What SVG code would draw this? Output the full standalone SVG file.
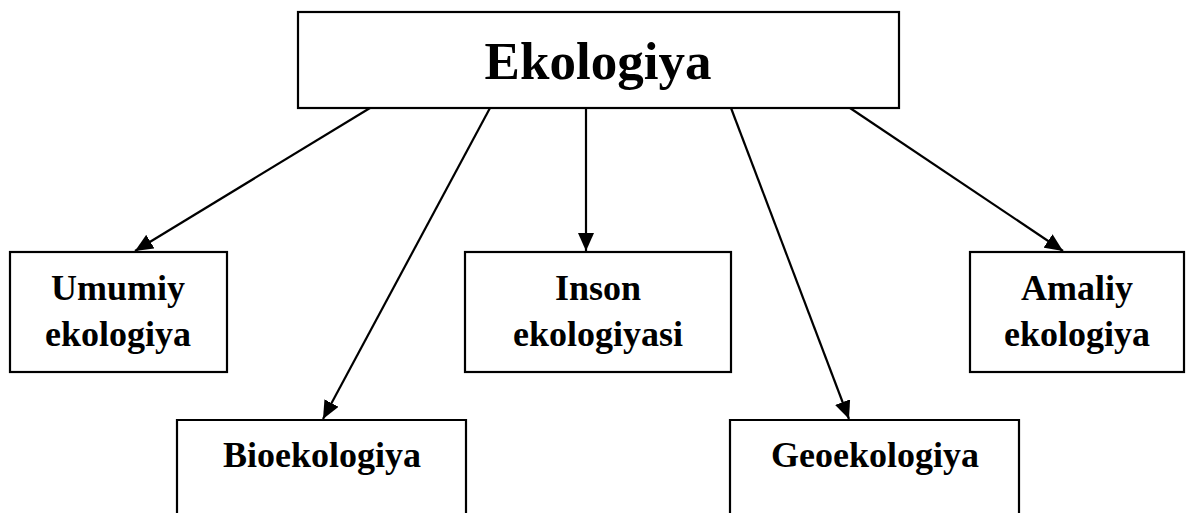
<svg xmlns="http://www.w3.org/2000/svg" width="1186" height="513" viewBox="0 0 1186 513">
<style>
.box{fill:#fff;stroke:#000;stroke-width:2.2}
.t{font-family:"Liberation Serif","Times New Roman",serif;font-weight:bold;fill:#000;text-anchor:middle}
.s{font-size:36px}
.e{stroke:#000;stroke-width:2.2;fill:none;marker-end:url(#ah)}
</style>
<defs>
<marker id="ah" markerUnits="userSpaceOnUse" markerWidth="20" markerHeight="16" refX="18" refY="8" orient="auto">
<path d="M0,0 L18,8 L0,16 Z" fill="#000"/>
</marker>
</defs>
<rect width="1186" height="513" fill="#fff"/>
<g id="n-ekologiya"><rect class="box" x="298" y="12" width="601" height="96"/><text class="t" x="598" y="79" font-size="53">Ekologiya</text></g>
<g id="n-umumiy"><rect class="box" x="10" y="252" width="217" height="120"/><text class="t s" x="118" y="300">Umumiy</text><text class="t s" x="118" y="346">ekologiya</text></g>
<g id="n-inson"><rect class="box" x="465" y="252" width="266" height="120"/><text class="t s" x="598" y="300">Inson</text><text class="t s" x="598" y="346">ekologiyasi</text></g>
<g id="n-amaliy"><rect class="box" x="970" y="252" width="214" height="120"/><text class="t s" x="1077" y="300">Amaliy</text><text class="t s" x="1077" y="346">ekologiya</text></g>
<g id="n-bio"><path class="box" d="M177,515 V420 H466 V515"/><text class="t s" x="322" y="467">Bioekologiya</text></g>
<g id="n-geo"><path class="box" d="M730,515 V420 H1019 V515"/><text class="t s" x="875" y="467">Geoekologiya</text></g>
<g id="connectors">
<line class="e" x1="370" y1="108" x2="135" y2="251"/>
<line class="e" x1="490" y1="108" x2="323" y2="419"/>
<line class="e" x1="586" y1="108" x2="586" y2="251"/>
<line class="e" x1="731" y1="108" x2="849" y2="419"/>
<line class="e" x1="850" y1="108" x2="1063" y2="251"/>
</g>
</svg>
